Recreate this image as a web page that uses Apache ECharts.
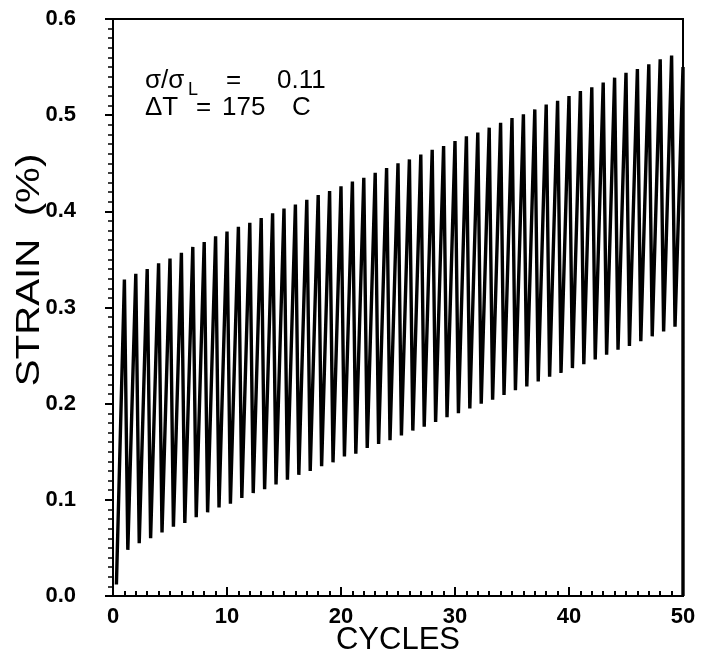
<!DOCTYPE html>
<html>
<head>
<meta charset="utf-8">
<script src="https://cdn.jsdelivr.net/npm/echarts@6/dist/echarts.min.js"></script>
<style>
html,body{margin:0;padding:0;background:#fff;}
#chart{width:705px;height:662px;}
</style>
</head>
<body>
<div id="chart"></div>
<script>
// ---- data ----
var startPoint = [0.3, 0.012];
var peakCycles = [1,2,3,4,5,6,7,8,9,10,11,12,13,14,15,16,17,18,19,20,21,22,23,24,25,26,27,28,29,30,31,32,33,34,35,36,37,38,39,40,41,42,43,44,45,46,47,48,49];
var peakStrain = [0.329,0.335,0.340,0.346,0.351,0.357,0.363,0.368,0.374,0.379,
                  0.384,0.388,0.393,0.398,0.403,0.407,0.412,0.417,0.421,0.426,
                  0.431,0.435,0.440,0.445,0.450,0.454,0.459,0.464,0.468,0.473,
                  0.478,0.482,0.487,0.492,0.497,0.501,0.506,0.511,0.515,0.520,
                  0.525,0.529,0.534,0.539,0.544,0.548,0.553,0.558,0.562];
var troughCycles = [1.3,2.3,3.3,4.3,5.3,6.3,7.3,8.3,9.3,10.3,11.3,12.3,13.3,14.3,15.3,16.3,17.3,18.3,19.3,20.3,21.3,22.3,23.3,24.3,25.3,26.3,27.3,28.3,29.3,30.3,31.3,32.3,33.3,34.3,35.3,36.3,37.3,38.3,39.3,40.3,41.3,42.3,43.3,44.3,45.3,46.3,47.3,48.3,49.3];
var troughStrain = [0.048,0.055,0.060,0.066,0.072,0.076,0.082,0.087,0.092,0.096,
                    0.102,0.107,0.111,0.116,0.121,0.126,0.130,0.135,0.139,0.145,
                    0.148,0.154,0.158,0.162,0.167,0.172,0.176,0.181,0.186,0.190,
                    0.195,0.200,0.204,0.209,0.214,0.218,0.223,0.228,0.232,0.237,
                    0.241,0.246,0.251,0.256,0.260,0.265,0.270,0.275,0.280];
var endPoints = [[50, 0.55], [50, 0.0]];
var xTicks = [0, 10, 20, 30, 40, 50];
var yTicks = [0.0, 0.1, 0.2, 0.3, 0.4, 0.5, 0.6];

// ---- build the series path ----
var pathData = [startPoint];
for (var i = 0; i < peakCycles.length; i++) {
  pathData.push([peakCycles[i], peakStrain[i]]);
  pathData.push([troughCycles[i], troughStrain[i]]);
}
endPoints.forEach(function (p) { pathData.push(p); });

var FONT = 'Liberation Sans';
var chart = echarts.init(document.getElementById('chart'), null, {renderer: 'canvas'});
chart.setOption({
  backgroundColor: '#ffffff',
  animation: false,
  grid: {left: 113, top: 19, right: 22, bottom: 66, show: true, borderColor: '#000', borderWidth: 2, backgroundColor: 'transparent'},
  xAxis: {
    type: 'value', min: xTicks[0], max: xTicks[xTicks.length - 1], interval: 10,
    axisLine: {show: true, lineStyle: {color: '#000', width: 2}},
    axisTick: {show: true, inside: true, length: 9, lineStyle: {color: '#000', width: 2}},
    minorTick: {show: true, splitNumber: 10, length: 5, lineStyle: {color: '#000', width: 2}},
    splitLine: {show: false},
    axisLabel: {color: '#000', fontFamily: FONT, fontSize: 22, fontWeight: 'bold', margin: 10,
      formatter: function (v) { return xTicks.indexOf(v) >= 0 ? String(v) : ''; }}
  },
  yAxis: {
    type: 'value', min: yTicks[0], max: yTicks[yTicks.length - 1], interval: 0.1,
    axisLine: {show: true, lineStyle: {color: '#000', width: 2}},
    axisTick: {show: true, inside: false, length: 8, lineStyle: {color: '#000', width: 2}},
    minorTick: {show: true, splitNumber: 10, length: 5, lineStyle: {color: '#000', width: 1.5}},
    splitLine: {show: false},
    axisLabel: {color: '#000', fontFamily: FONT, fontSize: 22, fontWeight: 'bold', margin: 37,
      formatter: function (v) { return v.toFixed(1); }}
  },
  series: [{
    type: 'line', data: pathData, showSymbol: false, symbol: 'none',
    lineStyle: {color: '#000', width: 3.4, join: 'bevel'},
    clip: true
  }],
  graphic: [
    {type: 'text', left: 145, top: 68, style: {text: 'σ/σ', fontFamily: FONT, fontSize: 26, fill: '#000'}},
    {type: 'text', left: 188, top: 81, style: {text: 'L', fontFamily: FONT, fontSize: 18, fill: '#000'}},
    {type: 'text', left: 226, top: 68, style: {text: '=', fontFamily: FONT, fontSize: 26, fill: '#000'}},
    {type: 'text', left: 277, top: 68, style: {text: '0.11', fontFamily: FONT, fontSize: 26, fill: '#000'}},
    {type: 'text', left: 145, top: 95, style: {text: 'ΔT', fontFamily: FONT, fontSize: 26, fill: '#000'}},
    {type: 'text', left: 196, top: 95, style: {text: '=', fontFamily: FONT, fontSize: 26, fill: '#000'}},
    {type: 'text', left: 222, top: 95, style: {text: '175', fontFamily: FONT, fontSize: 26, fill: '#000'}},
    {type: 'text', left: 292, top: 95, style: {text: 'C', fontFamily: FONT, fontSize: 26, fill: '#000'}},
    {type: 'text', x: 30, y: 270, rotation: Math.PI / 2, scaleX: 1.22, scaleY: 1,
      style: {text: 'STRAIN  (%)', fontFamily: FONT, fontSize: 33, fill: '#000', align: 'center', verticalAlign: 'middle'}},
    {type: 'text', x: 398, y: 640,
      style: {text: 'CYCLES', fontFamily: FONT, fontSize: 31, fill: '#000', align: 'center', verticalAlign: 'middle'}}
  ]
});
</script>
</body>
</html>
